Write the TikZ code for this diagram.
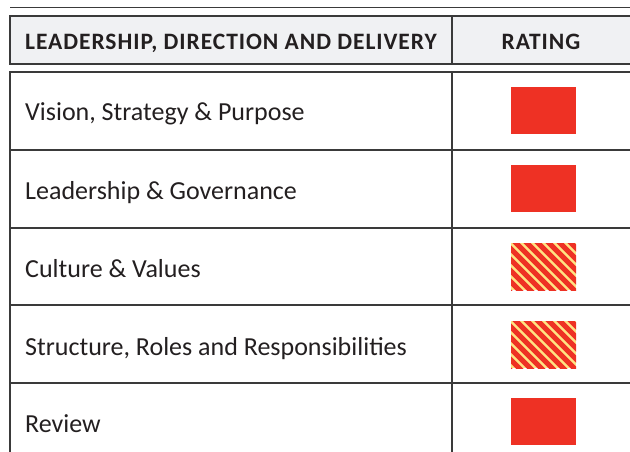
\documentclass[tikz,border=0pt]{standalone}
\usepackage{fontspec}
\setmainfont{Carlito}
\definecolor{rline}{HTML}{3A3A3A}
\definecolor{hdrfill}{HTML}{F0F1F3}
\definecolor{ratred}{HTML}{EE3124}
\definecolor{ratyel}{HTML}{FFE383}
\definecolor{txt}{HTML}{231F20}
\tikzset{
  rule/.style={draw=rline, line width=1.5pt},
  hdrtext/.style={font=\bfseries\fontsize{23.5}{26}\selectfont\addfontfeatures{LetterSpace=4}, text=txt, inner sep=0pt},
  celltext/.style={font=\fontsize{26}{30}\selectfont, text=txt, inner sep=0pt, anchor=base west},
  redbox/.style={fill=ratred, draw=none},
}
\begin{document}
\begin{tikzpicture}[x=1pt,y=-1pt]
\useasboundingbox (0,0) rectangle (630,452);
% top rule
\draw[rule] (10,7.5) -- (640,7.5);
% header box
\fill[hdrfill] (10,16) rectangle (640,64);
\draw[rule] (640,16) -- (10,16) -- (10,64) -- (640,64);
\draw[rule] (452,16) -- (452,64);
\node[hdrtext, anchor=base west] (h1) at (25,49.5) {LEADERSHIP, DIRECTION AND DELIVERY};
\node[hdrtext, anchor=base] (h2) at (541,49.5) {RATING};
% body
\draw[rule] (640,72) -- (10,72) -- (10,470);
\draw[rule] (452,72) -- (452,470);
\foreach \y in {150,228,305,383} {\draw[rule] (10,\y) -- (640,\y);}
% texts
\node[celltext] (r1) at (25,121) {Vision, Strategy \& Purpose};
\node[celltext] (r2) at (25,199) {Leadership \& Governance};
\node[celltext] (r3) at (25,277) {Culture \& Values};
\node[celltext] (r4) at (25,355) {Structure, Roles and Responsibilities};
\node[celltext] (r5) at (25,432) {Review};
% ratings
\fill[redbox] (511,87) rectangle (576,134);
\fill[redbox] (511,165) rectangle (576,212);
\fill[redbox] (511,398) rectangle (576,445);
\foreach \yt in {243,321} {
  \begin{scope}
    \clip (511,\yt) rectangle (576,\yt+47);
    \fill[ratyel] (511,\yt) rectangle (576,\yt+47);
    \foreach \d in {-66,-55,...,77}
      \draw[ratred, line width=5.2pt] (511+\d,\yt-5) -- ++(60,60);
  \end{scope}
}
\end{tikzpicture}
\end{document}
